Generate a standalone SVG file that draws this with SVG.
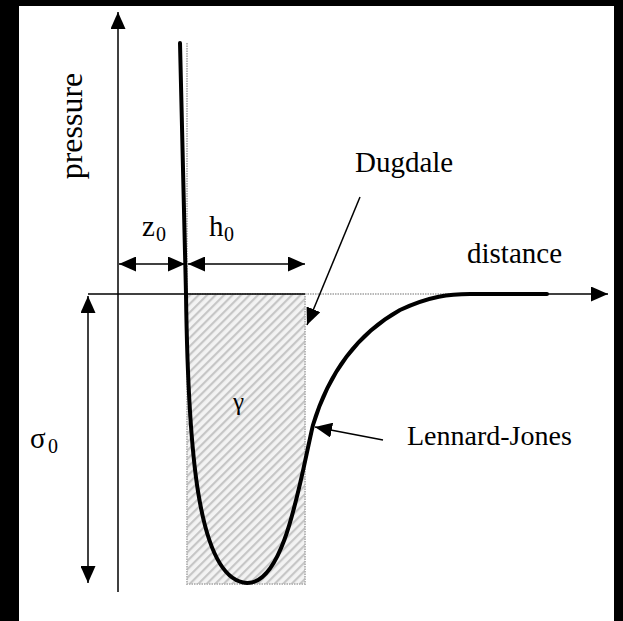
<svg xmlns="http://www.w3.org/2000/svg" width="623" height="621" viewBox="0 0 623 621">
<defs>
<pattern id="hatch" width="6" height="6" patternUnits="userSpaceOnUse" patternTransform="rotate(45)">
<rect width="6" height="6" fill="#f3f3f3"/>
<rect x="0" y="0" width="2.2" height="6" fill="#c6c6c6"/>
</pattern>
<marker id="ah" viewBox="0 0 17 15" refX="17" refY="7.5" markerWidth="17" markerHeight="15" markerUnits="userSpaceOnUse" orient="auto">
<path d="M0,0 L17,7.5 L0,15 Z" fill="#000"/>
</marker>
<marker id="ahs" viewBox="0 0 17 15" refX="17" refY="7.5" markerWidth="17" markerHeight="15" markerUnits="userSpaceOnUse" orient="auto-start-reverse">
<path d="M0,0 L17,7.5 L0,15 Z" fill="#000"/>
</marker>
</defs>
<style>
.t{font-family:"Liberation Serif","Times New Roman",serif;font-size:29px;fill:#000}
.s{font-family:"Liberation Serif","Times New Roman",serif;font-size:20px;fill:#000}
.ax{stroke:#000;stroke-width:1.5;fill:none}
.gr{stroke:#b8b8b8;stroke-width:2;stroke-dasharray:1.5 1;fill:none}
.box{stroke:#b8b8b8;stroke-width:2;stroke-dasharray:1.5 1;fill:url(#hatch)}
.lj{stroke:#000;stroke-width:4;fill:none;stroke-linecap:round;stroke-linejoin:round}
</style>
<rect width="623" height="621" fill="#fff"/>
<g id="frame">
<rect x="0" y="0" width="19" height="621" fill="#000"/>
<rect x="0" y="0" width="623" height="6" fill="#000"/>
<rect x="614" y="0" width="9" height="621" fill="#000"/>
</g>
<g id="dugdale">
<rect x="187" y="294" width="118" height="290" class="box"/>
<line x1="187" y1="43" x2="187" y2="294" class="gr"/>
<line x1="305" y1="294" x2="462" y2="294" class="gr"/>
</g>
<g id="axes">
<line x1="118" y1="592" x2="118" y2="12" class="ax" marker-end="url(#ah)"/>
<line x1="88" y1="294" x2="305" y2="294" class="ax"/>
<line x1="545" y1="294" x2="608" y2="294" class="ax" marker-end="url(#ah)"/>
</g>
<g id="lennard-jones-curve">
<path class="lj" d="M180,43 L186,294 C188,440 196,580 247,583 C285,584 300,480 313,425 C326,382 350,338 400,310 C430,296 450,294 470,294 L547,294"/>
</g>
<g id="connectors">
<line x1="88" y1="296" x2="88" y2="583" class="ax" marker-start="url(#ahs)" marker-end="url(#ah)"/>
<line x1="119" y1="264" x2="185" y2="264" class="ax" marker-start="url(#ahs)" marker-end="url(#ah)"/>
<line x1="188" y1="264" x2="305" y2="264" class="ax" marker-start="url(#ahs)" marker-end="url(#ah)"/>
<line x1="360" y1="197" x2="307" y2="325" class="ax" marker-end="url(#ah)"/>
<line x1="383" y1="440" x2="315" y2="427" class="ax" marker-end="url(#ah)"/>
</g>
<g id="labels">
<text class="t" transform="translate(82,126) rotate(-90)" text-anchor="middle" style="font-size:32px">pressure</text>
<text class="t" x="142" y="236">z</text><text class="s" x="156" y="241">0</text>
<text class="t" x="209" y="236">h</text><text class="s" x="224" y="241">0</text>
<text class="t" x="30" y="448">σ</text><text class="s" x="48" y="453">0</text>
<text class="t" x="233" y="410" style="font-size:25px">γ</text>
<text class="t" x="355" y="172">Dugdale</text>
<text class="t" x="467" y="263">distance</text>
<text class="t" x="407" y="445" style="font-size:28px">Lennard-Jones</text>
</g>
</svg>
